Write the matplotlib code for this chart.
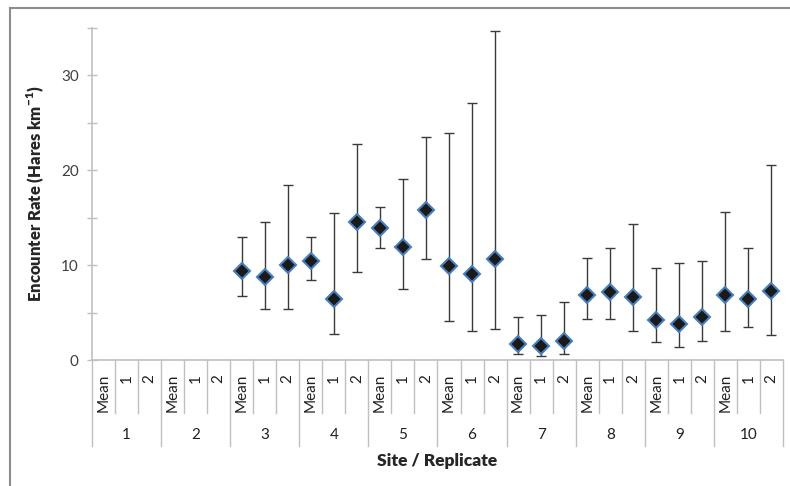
import numpy as np
import matplotlib.pyplot as plt
from matplotlib.lines import Line2D
import matplotlib.transforms as mtransforms

plt.rcParams['font.family'] = ['Lato', 'DejaVu Sans']

# sites and replicate labels (Mean, rep 1, rep 2 for each site)
sites = ['1', '2', '3', '4', '5', '6', '7', '8', '9', '10']
replicates = ['Mean', '1', '2']

# encounter rate (hares per km) with lower / upper confidence limits
# sites 1 and 2 had no hares recorded
rate = [np.nan, np.nan, np.nan,
        np.nan, np.nan, np.nan,
        9.4, 8.8, 10.0,
        10.4, 6.4, 14.6,
        13.9, 11.9, 15.8,
        9.9, 9.1, 10.7,
        1.7, 1.45, 2.0,
        6.85, 7.15, 6.6,
        4.2, 3.8, 4.5,
        6.85, 6.4, 7.3]
lower = [np.nan, np.nan, np.nan,
         np.nan, np.nan, np.nan,
         6.7, 5.4, 5.4,
         8.4, 2.7, 9.3,
         11.8, 7.5, 10.6,
         4.1, 3.05, 3.3,
         0.6, 0.4, 0.6,
         4.3, 4.3, 3.05,
         1.9, 1.4, 2.0,
         3.05, 3.5, 2.6]
upper = [np.nan, np.nan, np.nan,
         np.nan, np.nan, np.nan,
         13.0, 14.5, 18.4,
         13.0, 15.5, 22.8,
         16.1, 19.1, 23.5,
         23.9, 27.1, 34.7,
         4.5, 4.7, 6.1,
         10.8, 11.8, 14.3,
         9.7, 10.2, 10.45,
         15.6, 11.8, 20.6]

rate = np.array(rate)
lower = np.array(lower)
upper = np.array(upper)
x = np.arange(len(rate))
yerr = np.vstack([rate - lower, upper - rate])

fig = plt.figure(figsize=(7.9, 4.86), dpi=100)
ax = fig.add_axes([92 / 790, 1 - 360 / 486, 691 / 790, 332 / 486])

ax.errorbar(x, rate, yerr=yerr, fmt='none', ecolor='#3a3a3a', elinewidth=1,
            capsize=3.5, capthick=1, zorder=2)
ax.plot(x, rate, 'D', ms=8, mfc='#1a1a1a', mec='#4a7ebb', mew=1.5,
        linestyle='none', zorder=3)

ax.set_xlim(-0.5, len(rate) - 0.5)
ax.set_ylim(0, 35)

# y axis
ax.set_yticks([0, 10, 20, 30])
ax.set_yticks([5, 15, 25, 35], minor=True)
ax.tick_params(axis='y', which='both', direction='inout', length=7, width=1,
               color='#bfbfbf', labelsize=11, labelcolor='#404040', pad=6)
for s in ['top', 'right']:
    ax.spines[s].set_visible(False)
ax.spines['left'].set_color('#bfbfbf')
ax.spines['bottom'].set_color('#bfbfbf')
ax.spines['left'].set_linewidth(1.2)
ax.spines['bottom'].set_linewidth(1.2)

# x axis: replicate labels on the first row
ax.set_xticks(x, replicates * len(sites), rotation=90, va='top', ha='center')
ax.tick_params(axis='x', length=0, pad=10, labelsize=11, labelcolor='#202020')

trans = mtransforms.blended_transform_factory(ax.transData, ax.transAxes)
row1 = -53 / 332
row2 = -86 / 332
for b in np.arange(-0.5, len(rate), 1.0):
    is_site = (b + 0.5) % 3 == 0
    y0 = row2 if is_site else row1
    ax.plot([b, b], [0, y0], color='#bfbfbf', lw=1, transform=trans,
             clip_on=False)

# site labels on the second row
for i, s in enumerate(sites):
    ax.text(3 * i + 1, -75 / 332, s, transform=trans, ha='center', va='center',
            fontsize=11, color='#202020')

ax.set_ylabel('Encounter Rate (Hares km$^{\\mathregular{-1}}$)', fontsize=12,
              fontweight='heavy', color='#262626')
ax.yaxis.set_label_coords(-45 / 691, 0.5)
ax.set_xlabel('Site / Replicate', fontsize=12.5, fontweight='heavy',
              color='#262626')
ax.xaxis.set_label_coords(0.5, -101 / 332)
ax.xaxis.label.set_va('center')

# outer frame lines
fig.add_artist(Line2D([10 / 790, 1], [1 - 8 / 486, 1 - 8 / 486],
                      color='#8c8c8c', lw=1.5))
fig.add_artist(Line2D([10 / 790, 10 / 790], [0, 1 - 8 / 486],
                      color='#8c8c8c', lw=1.5))

fig.savefig('out.png', dpi=100)
